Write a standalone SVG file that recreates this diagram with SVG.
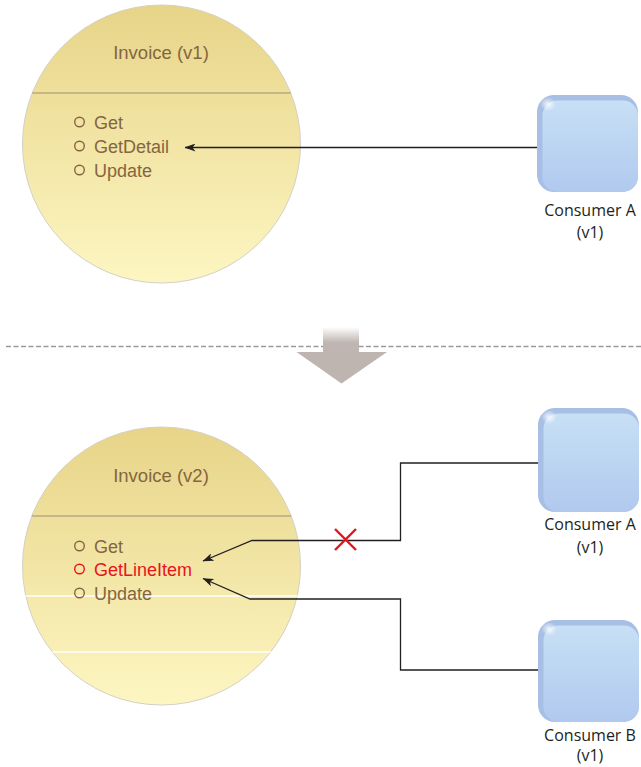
<svg xmlns="http://www.w3.org/2000/svg" width="641" height="767" viewBox="0 0 641 767">
  <style>
    .title { font-family: "Liberation Sans", Arial, sans-serif; font-size: 18.5px; fill: #856540; text-anchor: middle; }
    .op { font-family: "Liberation Sans", Arial, sans-serif; font-size: 18px; fill: #856540; }
    .op-new { fill: #E8141C; }
    .dot { fill: none; stroke: #856540; stroke-width: 1.4; }
    .dot-new { stroke: #E8141C; }
    .disc { fill: url(#discFill); stroke: #D4D0C4; stroke-width: 1; }
    .sep { stroke: #B9A882; stroke-width: 1.6; }
    .band { stroke: #FFFFFF; stroke-width: 1.3; }
    .label { font-family: "Open Sans", "Liberation Sans", sans-serif; font-size: 16px; fill: #231F20; text-anchor: middle; }
    .box-back { fill: #A7BFE5; }
    .box-front { fill: url(#boxFill); }
    .box-gloss { fill: url(#glossFill); }
    .wire { fill: none; stroke: #231F20; stroke-width: 1.3; }
    .cross { stroke: #E8141C; stroke-width: 2.4; stroke-linecap: butt; }
  </style>
  <defs>
    <linearGradient id="discFill" x1="0" y1="0" x2="0" y2="1">
      <stop offset="0" stop-color="#E7D488"/>
      <stop offset="1" stop-color="#FDF6C2"/>
    </linearGradient>
    <linearGradient id="boxFill" x1="0" y1="0" x2="0" y2="1">
      <stop offset="0" stop-color="#C7E0F5"/>
      <stop offset="1" stop-color="#B1C9EE"/>
    </linearGradient>
    <radialGradient id="glossFill" cx="0.5" cy="0.5" r="0.5">
      <stop offset="0" stop-color="#FFFFFF" stop-opacity="0.85"/>
      <stop offset="1" stop-color="#FFFFFF" stop-opacity="0"/>
    </radialGradient>
    <linearGradient id="shaftFill" x1="0" y1="0" x2="0" y2="1">
      <stop offset="0" stop-color="#FFFFFF"/>
      <stop offset="0.6" stop-color="#BFB5B1"/>
      <stop offset="1" stop-color="#BEB4B0"/>
    </linearGradient>
    <marker id="head" viewBox="0 0 11 8" refX="10.5" refY="4" markerWidth="11" markerHeight="8" markerUnits="userSpaceOnUse" orient="auto">
      <path d="M0,0 L11,4 L0,8 L3,4 Z" fill="#231F20"/>
    </marker>
  </defs>

  <!-- Service contract, version 1 -->
  <g id="invoice-v1">
    <circle class="disc" cx="161.5" cy="144" r="139"/>
    <line class="sep" x1="32.2" y1="93" x2="290.8" y2="93"/>
    <text class="title" x="161" y="59">Invoice (v1)</text>
    <circle class="dot" cx="79.5" cy="122" r="4.8"/>
    <text class="op" x="94" y="129">Get</text>
    <circle class="dot" cx="79.5" cy="146" r="4.8"/>
    <text class="op" x="94" y="153">GetDetail</text>
    <circle class="dot" cx="79.5" cy="170" r="4.8"/>
    <text class="op" x="94" y="177">Update</text>
  </g>

  <g id="consumer-a-v1-top">
    <rect class="box-back" x="537" y="95" width="101" height="97" rx="17"/>
    <rect class="box-front" x="542.5" y="100.5" width="95.5" height="91.5" rx="15"/>
    <ellipse class="box-gloss" cx="548" cy="104" rx="8" ry="7"/>
    <text class="label" x="590" y="216">Consumer A</text>
    <text class="label" x="590" y="238">(v1)</text>
  </g>

  <!-- Divider and transition arrow -->
  <g id="transition">
    <line x1="6" y1="346.5" x2="641" y2="346.5" stroke="#9A9A9A" stroke-width="1.6" stroke-dasharray="5 2.5"/>
    <rect x="323" y="327" width="36" height="26" fill="url(#shaftFill)"/>
    <polygon points="296.5,352 387,352 341.5,383.5" fill="#BEB4B0"/>
  </g>

  <!-- Service contract, version 2 -->
  <g id="invoice-v2">
    <circle class="disc" cx="161.5" cy="566" r="139"/>
    <line class="sep" x1="31.8" y1="516" x2="291.2" y2="516"/>
    <line class="band" x1="25.3" y1="596" x2="297.7" y2="596"/>
    <line class="band" x1="52.3" y1="652" x2="270.7" y2="652"/>
    <text class="title" x="161" y="482">Invoice (v2)</text>
    <circle class="dot" cx="79.5" cy="546" r="4.8"/>
    <text class="op" x="94" y="553">Get</text>
    <circle class="dot dot-new" cx="79.5" cy="569" r="4.8"/>
    <text class="op op-new" x="94" y="576">GetLineItem</text>
    <circle class="dot" cx="79.5" cy="593" r="4.8"/>
    <text class="op" x="94" y="600">Update</text>
  </g>

  <g id="consumer-a-v1">
    <rect class="box-back" x="538" y="408" width="101" height="104" rx="17"/>
    <rect class="box-front" x="543.5" y="413.5" width="95.5" height="98.5" rx="15"/>
    <ellipse class="box-gloss" cx="549" cy="417" rx="8" ry="7"/>
    <text class="label" x="590" y="530">Consumer A</text>
    <text class="label" x="590" y="553">(v1)</text>
  </g>

  <g id="consumer-b-v1">
    <rect class="box-back" x="538" y="620" width="101" height="102" rx="17"/>
    <rect class="box-front" x="543.5" y="625.5" width="95.5" height="96.5" rx="15"/>
    <ellipse class="box-gloss" cx="549" cy="629" rx="8" ry="7"/>
    <text class="label" x="590" y="741">Consumer B</text>
    <text class="label" x="590" y="761">(v1)</text>
  </g>

  <!-- Calls from consumers to operations -->
  <g id="connectors">
    <path class="wire" d="M537,147.5 L185,147.5" marker-end="url(#head)"/>
    <path class="wire" d="M538,463 L400.5,463 L400.5,540.5 L252,540.5 L203,561" marker-end="url(#head)"/>
    <path class="wire" d="M538,670 L400.5,670 L400.5,599 L250,599 L203,578.5" marker-end="url(#head)"/>
    <g id="broken-call">
      <line class="cross" x1="335" y1="529" x2="356" y2="550"/>
      <line class="cross" x1="356" y1="529" x2="335" y2="550"/>
    </g>
  </g>
</svg>
